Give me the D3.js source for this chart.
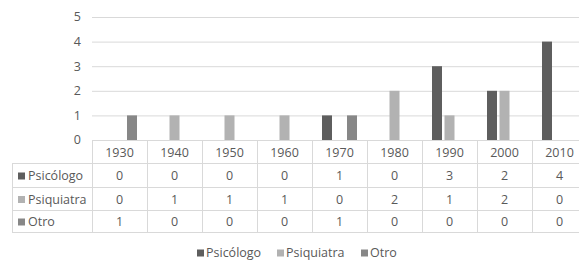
<!DOCTYPE html>
<html>
<head>
  <meta charset="utf-8">
  <script src="https://d3js.org/d3.v7.min.js"></script>
  <style>
    body { margin: 0; background: #fff; }
    text { font-family: 'Open Sans', sans-serif; font-size: 12.5px; fill: #595959; }
  </style>
</head>
<body>
<div id="chart"></div>
<script>
  var years = ["1930", "1940", "1950", "1960", "1970", "1980", "1990", "2000", "2010"];
  var series = ["Psicólogo", "Psiquiatra", "Otro"];
  var psicologo = [0, 0, 0, 0, 1, 0, 3, 2, 4];
  var psiquiatra = [0, 1, 1, 1, 0, 2, 1, 2, 0];
  var otro = [1, 0, 0, 0, 1, 0, 0, 0, 0];
  var yTicks = [0, 1, 2, 3, 4, 5];

  var values = [psicologo, psiquiatra, otro];
  var colours = ["#5e5e5e", "#b2b2b2", "#878787"];

  var width = 579, height = 263;
  var plotLeft = 92, plotRight = 587, plotTop = 17, baseY = 140;
  var rowH = [140, 163, 187, 210, 232];
  var tableLeft = 12;
  var gridColour = "#d9d9d9";

  var svg = d3.select("#chart").append("svg")
    .attr("width", width)
    .attr("height", height);

  var x = d3.scaleBand().domain(years).range([plotLeft, plotRight]);
  var x1 = d3.scaleBand().domain(series).range([10, 45]).paddingInner(0.2);
  var y = d3.scaleLinear().domain([0, 5]).range([baseY, plotTop]);

  // gridlines
  svg.append("g").selectAll("line")
    .data(yTicks.slice(1))
    .enter().append("line")
    .attr("x1", plotLeft).attr("x2", width)
    .attr("y1", function (d) { return y(d) + 0.5; })
    .attr("y2", function (d) { return y(d) + 0.5; })
    .attr("stroke", gridColour);

  // y tick labels
  svg.append("g").selectAll("text")
    .data(yTicks)
    .enter().append("text")
    .attr("x", 81)
    .attr("y", function (d) { return y(d); })
    .attr("dy", "0.35em")
    .attr("text-anchor", "end")
    .text(function (d) { return d; });

  // bars
  series.forEach(function (s, si) {
    svg.append("g").selectAll("rect")
      .data(values[si])
      .enter().append("rect")
      .attr("x", function (d, i) { return x(years[i]) + x1(s); })
      .attr("y", function (d) { return y(d); })
      .attr("width", x1.bandwidth())
      .attr("height", function (d) { return baseY - y(d); })
      .attr("fill", colours[si]);
  });

  // data table
  var table = svg.append("g").attr("stroke", gridColour).attr("fill", "none");
  rowH.forEach(function (ry, i) {
    table.append("line")
      .attr("x1", i == 0 ? plotLeft : tableLeft).attr("x2", width)
      .attr("y1", ry + 0.5).attr("y2", ry + 0.5);
  });
  table.append("line")
    .attr("x1", tableLeft + 0.5).attr("x2", tableLeft + 0.5)
    .attr("y1", rowH[1]).attr("y2", rowH[4]);
  years.concat(["end"]).forEach(function (yr, i) {
    var xx = i < years.length ? x(yr) : plotRight;
    table.append("line")
      .attr("x1", xx + 0.5).attr("x2", xx + 0.5)
      .attr("y1", rowH[0]).attr("y2", rowH[4]);
  });

  // header years
  svg.append("g").selectAll("text")
    .data(years)
    .enter().append("text")
    .attr("x", function (d) { return x(d) + x.bandwidth() / 2; })
    .attr("y", (rowH[0] + rowH[1]) / 2 + 1)
    .attr("dy", "0.35em")
    .attr("text-anchor", "middle")
    .text(function (d) { return d; });

  // row labels + values
  series.forEach(function (s, si) {
    var cy = (rowH[si + 1] + rowH[si + 2]) / 2 + 1;
    svg.append("rect")
      .attr("x", 18).attr("y", cy - 3.5)
      .attr("width", 7).attr("height", 7)
      .attr("fill", colours[si]);
    svg.append("text")
      .attr("x", 28).attr("y", cy).attr("dy", "0.35em")
      .text(s);
    svg.append("g").selectAll("text")
      .data(values[si])
      .enter().append("text")
      .attr("x", function (d, i) { return x(years[i]) + x.bandwidth() / 2; })
      .attr("y", cy).attr("dy", "0.35em")
      .attr("text-anchor", "middle")
      .text(function (d) { return d; });
  });

  // legend
  var legendX = [197, 277, 361];
  var legend = svg.append("g").selectAll("g")
    .data(series)
    .enter().append("g")
    .attr("transform", function (d, i) { return "translate(" + legendX[i] + ",253)"; });
  legend.append("rect")
    .attr("x", 0).attr("y", -3.5).attr("width", 7).attr("height", 7)
    .attr("fill", function (d, i) { return colours[i]; });
  legend.append("text")
    .attr("x", 9).attr("dy", "0.35em")
    .text(function (d) { return d; });
</script>
</body>
</html>
